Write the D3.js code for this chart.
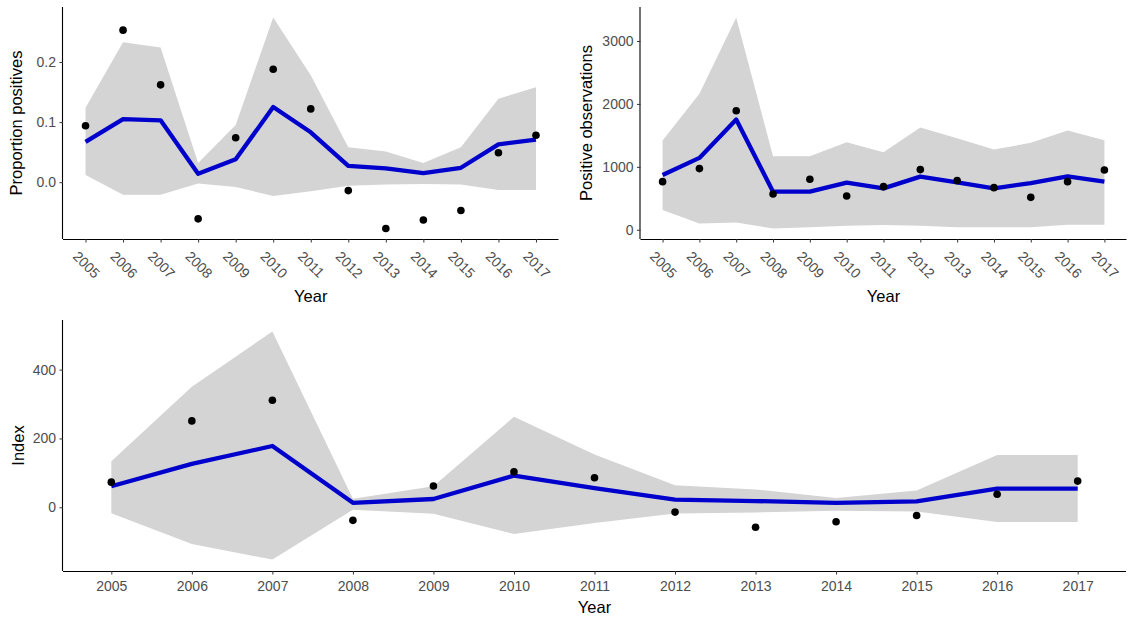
<!DOCTYPE html>
<html>
<head>
<meta charset="utf-8">
<script src="https://cdn.jsdelivr.net/npm/d3@7"></script>
<style>
  html, body { margin: 0; padding: 0; background: #fff; }
  svg { display: block; }
  text { font-family: "Liberation Sans", Arial, sans-serif; }
</style>
</head>
<body>
<svg id="fig" width="1129" height="623"></svg>
<script>
// Survey years shared by all three panels
const years = ["2005","2006","2007","2008","2009","2010","2011","2012","2013","2014","2015","2016","2017"];

// Proportion of positive samples: observed, fitted trend and confidence band
const propObs   = [0.094, 0.253, 0.162, -0.061, 0.074, 0.188, 0.122, -0.014, -0.077, -0.063, -0.047, 0.049, 0.078];
const propFit   = [0.067, 0.105, 0.103, 0.014, 0.038, 0.125, 0.083, 0.027, 0.023, 0.015, 0.024, 0.063, 0.071];
const propUpper = [0.124, 0.233, 0.224, 0.032, 0.095, 0.274, 0.178, 0.058, 0.051, 0.032, 0.058, 0.139, 0.158];
const propLower = [0.012, -0.021, -0.021, -0.002, -0.008, -0.023, -0.015, -0.006, -0.004, -0.003, -0.004, -0.013, -0.013];
const propTicks = [0, 0.1, 0.2];

// Number of positive observations
const posObs   = [765, 972, 1890, 568, 802, 536, 685, 956, 781, 669, 515, 765, 950];
const posFit   = [871, 1142, 1752, 605, 605, 749, 658, 844, 754, 658, 743, 850, 765];
const posUpper = [1418, 2161, 3372, 1168, 1168, 1391, 1232, 1625, 1455, 1274, 1381, 1577, 1423];
const posLower = [313, 101, 117, 21, 42, 64, 74, 64, 42, 42, 42, 80, 80];
const posTicks = [0, 1000, 2000, 3000];

// Combined abundance index
const idxObs   = [73, 251, 311, -38, 62, 103, 86, -14, -58, -42, -24, 38, 76];
const idxFit   = [61, 126, 178, 13, 24, 92, 56, 22, 18, 13, 17, 54, 54];
const idxUpper = [134, 350, 511, 25, 61, 263, 153, 64, 52, 27, 49, 152, 152];
const idxLower = [-17, -107, -152, -7, -19, -78, -46, -18, -15, -10, -12, -43, -43];
const idxTicks = [0, 200, 400];

const svg = d3.select("#fig");

const TICK_COLOR = "#4d4d4d";
const TICK_SIZE = "14px";
const TITLE_SIZE = "16.5px";

function panel(opts) {
  const { left, right, top, bottom, obs, fit, upper, lower, ticks, fmt,
          yTitle, yTitleX, xTitleY, rotate } = opts;

  const x = d3.scalePoint().domain(years).range([left, right]).padding(0.6);

  const all = obs.concat(fit, upper, lower);
  const [lo, hi] = d3.extent(all);
  const pad = (hi - lo) * 0.05;
  const y = d3.scaleLinear().domain([lo - pad, hi + pad]).range([bottom, top]);

  const rows = years.map((yr, i) => ({ yr, obs: obs[i], fit: fit[i], up: upper[i], lo: lower[i] }));

  const g = svg.append("g");

  // confidence band
  g.append("path")
    .datum(rows)
    .attr("fill", "#d4d4d4")
    .attr("d", d3.area().x(d => x(d.yr)).y0(d => y(d.lo)).y1(d => y(d.up)));

  // fitted trend
  g.append("path")
    .datum(rows)
    .attr("fill", "none")
    .attr("stroke", "#0000cd")
    .attr("stroke-width", 4.3)
    .attr("stroke-linejoin", "round")
    .attr("d", d3.line().x(d => x(d.yr)).y(d => y(d.fit)));

  // observed values
  g.selectAll("circle.obs")
    .data(rows)
    .join("circle")
    .attr("class", "obs")
    .attr("cx", d => x(d.yr))
    .attr("cy", d => y(d.obs))
    .attr("r", 3.8)
    .attr("fill", "#000");

  // x axis
  const xa = g.append("g")
    .attr("transform", `translate(0,${bottom})`)
    .call(d3.axisBottom(x).tickSizeOuter(0).tickSize(3.5).tickPadding(3));
  xa.select(".domain").attr("stroke", "#000").attr("stroke-width", 1.1)
    .attr("d", `M${left},0.5H${right}`);
  xa.selectAll(".tick line").attr("stroke", "#333").attr("stroke-width", 1);
  xa.selectAll(".tick text")
    .attr("fill", TICK_COLOR)
    .style("font-size", TICK_SIZE);
  if (rotate) {
    xa.selectAll(".tick text")
      .attr("text-anchor", "start")
      .attr("x", 0).attr("y", 0).attr("dy", "0.72em")
      .attr("transform", "translate(-7,11) rotate(45)");
  } else {
    xa.selectAll(".tick text").attr("dy", "0.95em");
  }

  // y axis
  const ya = g.append("g")
    .attr("transform", `translate(${left},0)`)
    .call(d3.axisLeft(y).tickValues(ticks).tickFormat(fmt).tickSizeOuter(0).tickSize(3.5).tickPadding(3.5));
  ya.select(".domain").attr("stroke", "#000").attr("stroke-width", 1.1)
    .attr("d", `M-0.5,${top}V${bottom}`);
  ya.selectAll(".tick line").attr("stroke", "#333").attr("stroke-width", 1);
  ya.selectAll(".tick text").attr("fill", TICK_COLOR).style("font-size", TICK_SIZE);

  // titles
  g.append("text")
    .attr("x", (left + right) / 2)
    .attr("y", xTitleY)
    .attr("text-anchor", "middle")
    .style("font-size", TITLE_SIZE)
    .attr("fill", "#000")
    .text("Year");

  g.append("text")
    .attr("transform", `translate(${yTitleX},${(top + bottom) / 2}) rotate(-90)`)
    .attr("text-anchor", "middle")
    .style("font-size", TITLE_SIZE)
    .attr("fill", "#000")
    .text(yTitle);
}

panel({
  left: 63, right: 558.5, top: 7, bottom: 239,
  obs: propObs, fit: propFit, upper: propUpper, lower: propLower,
  ticks: propTicks, fmt: d3.format(".1f"),
  yTitle: "Proportion positives", yTitleX: 22, xTitleY: 302, rotate: true
});

panel({
  left: 640.5, right: 1126.5, top: 7, bottom: 239,
  obs: posObs, fit: posFit, upper: posUpper, lower: posLower,
  ticks: posTicks, fmt: d3.format("d"),
  yTitle: "Positive observations", yTitleX: 592, xTitleY: 302, rotate: true
});

panel({
  left: 63, right: 1126, top: 320, bottom: 571,
  obs: idxObs, fit: idxFit, upper: idxUpper, lower: idxLower,
  ticks: idxTicks, fmt: d3.format("d"),
  yTitle: "Index", yTitleX: 24, xTitleY: 613, rotate: false
});
</script>
</body>
</html>
